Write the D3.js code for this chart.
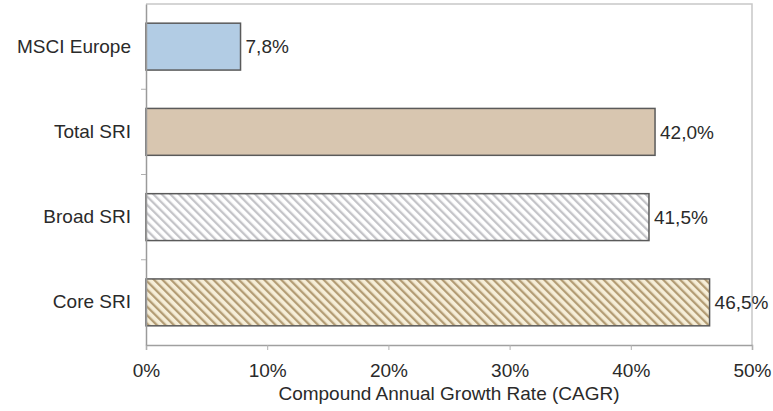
<!DOCTYPE html>
<html>
<head>
<meta charset="utf-8">
<script src="https://cdn.jsdelivr.net/npm/d3@7"></script>
<style>
  html, body { margin: 0; padding: 0; background: #fff; }
  svg { display: block; font-family: Arial, "Liberation Sans", sans-serif; }
</style>
</head>
<body>
<svg id="chart" width="773" height="411"></svg>
<script>
// Growth rates by segment (CAGR, %)
const categories = ["MSCI Europe", "Total SRI", "Broad SRI", "Core SRI"];
const values = [7.8, 42.0, 41.5, 46.5];
const valueLabels = ["7,8%", "42,0%", "41,5%", "46,5%"];
const xTicks = [0, 10, 20, 30, 40, 50];
const xTickLabels = ["0%", "10%", "20%", "30%", "40%", "50%"];
const axisTitle = "Compound Annual Growth Rate (CAGR)";

const svg = d3.select("#chart");
const margin = { left: 146, right: 21, top: 4, bottom: 66 };
const W = 773, H = 411;
const FONT = "Arial, 'Liberation Sans', sans-serif";

const x = d3.scaleLinear().domain([0, 50]).range([margin.left, W - margin.right]);
const y = d3.scaleBand().domain(categories).range([margin.top, H - margin.bottom])
  .paddingInner(0.45).paddingOuter(0.225);

// Hatch patterns
const defs = svg.append("defs");
function hatch(id, bg, stroke, w) {
  const p = defs.append("pattern").attr("id", id)
    .attr("patternUnits", "userSpaceOnUse").attr("width", 6).attr("height", 6)
    .attr("patternTransform", "rotate(-45)");
  p.append("rect").attr("width", 6).attr("height", 6).attr("fill", bg);
  p.append("rect").attr("x", 0).attr("y", 0).attr("width", w).attr("height", 6).attr("fill", stroke);
}
hatch("hatchGray", "#ffffff", "#c4c4c8", 2.3);
hatch("hatchTan", "#f6eed8", "#b39c74", 2.3);

const fills = ["#b2cce4", "#d8c6b0", "url(#hatchGray)", "url(#hatchTan)"];

// Frame: top and right edges
svg.append("path")
  .attr("d", `M${x(0)},${margin.top}H${x(50)}V${H - margin.bottom}`)
  .attr("fill", "none").attr("stroke", "#c8c8c8").attr("stroke-width", 1.5);

// Bars
svg.append("g").selectAll("rect").data(categories).join("rect")
  .attr("x", x(0))
  .attr("y", d => y(d))
  .attr("width", (d, i) => x(values[i]) - x(0))
  .attr("height", y.bandwidth())
  .attr("fill", (d, i) => fills[i])
  .attr("stroke", "#5a5a5a").attr("stroke-width", 1.5);

// Value labels
svg.append("g").selectAll("text").data(categories).join("text")
  .attr("x", (d, i) => x(values[i]) + 5)
  .attr("y", d => y(d) + y.bandwidth() / 2)
  .attr("dy", "0.35em")
  .attr("font-size", 19).attr("fill", "#2a2a2a")
  .text((d, i) => valueLabels[i]);

// X axis
const xAxis = svg.append("g").attr("transform", `translate(0,${H - margin.bottom})`)
  .call(d3.axisBottom(x).tickValues(xTicks).tickSize(5).tickPadding(14)
    .tickFormat((d, i) => xTickLabels[i]));
xAxis.select(".domain").attr("stroke", "#a0a0a0").attr("stroke-width", 1.5);
xAxis.selectAll(".tick line").attr("stroke", "#b0b0b0");
xAxis.selectAll("text").attr("font-size", 19).attr("fill", "#2a2a2a")
  .attr("font-family", FONT);

// Y axis with ticks between categories
const yAxis = svg.append("g").attr("transform", `translate(${margin.left},0)`)
  .call(d3.axisLeft(y).tickSize(0).tickPadding(15));
yAxis.select(".domain").attr("stroke", "#9a9a9a").attr("stroke-width", 1.5);
yAxis.selectAll("text").attr("font-size", 19).attr("fill", "#2a2a2a")
  .attr("font-family", FONT);
const step = y.step();
const sepY = d3.range(1, categories.length).map(i => margin.top + i * step);
svg.append("g").selectAll("line").data(sepY).join("line")
  .attr("x1", margin.left - 5).attr("x2", margin.left)
  .attr("y1", d => d).attr("y2", d => d)
  .attr("stroke", "#b0b0b0");

// Axis title
svg.append("text")
  .attr("x", (x(0) + x(50)) / 2).attr("y", 400)
  .attr("text-anchor", "middle")
  .attr("font-size", 19).attr("fill", "#2a2a2a")
  .text(axisTitle);
</script>
</body>
</html>
